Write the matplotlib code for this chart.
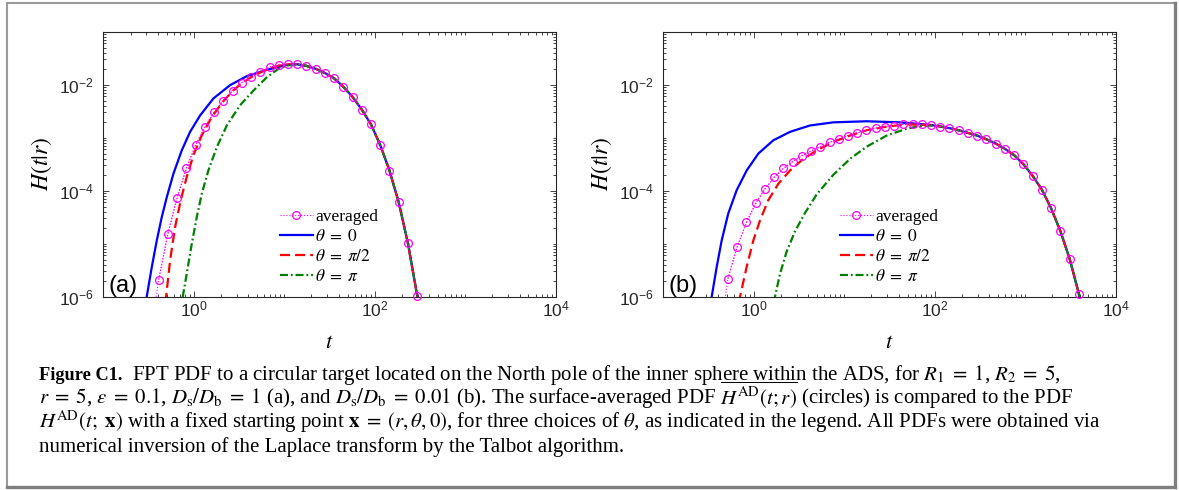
import numpy as np
import matplotlib
matplotlib.use("Agg")
import matplotlib.pyplot as plt
from matplotlib.ticker import FixedLocator, LogLocator, NullFormatter
from matplotlib.lines import Line2D

plt.rcParams["font.family"] = ["Liberation Sans", "DejaVu Sans"]
plt.rcParams["mathtext.fontset"] = "stix"

# ---- data (log10 t, log10 H) ----
# sampling grid of the averaged curve (circles)
logt_avg_a = [-0.388, -0.286, -0.184, -0.082, 0.020, 0.122, 0.224, 0.327, 0.429, 0.531,
              0.633, 0.735, 0.837, 0.939, 1.041, 1.143, 1.245, 1.347, 1.449, 1.551,
              1.653, 1.755, 1.857, 1.959, 2.061, 2.163, 2.265, 2.367, 2.469]
logH_avg_a = [-5.68, -4.81, -4.13, -3.58, -3.14, -2.80, -2.52, -2.30, -2.11, -1.96,
              -1.85, -1.76, -1.67, -1.63, -1.61, -1.61, -1.64, -1.70, -1.78, -1.88,
              -2.04, -2.23, -2.47, -2.75, -3.14, -3.62, -4.22, -4.99, -5.98]

# common tail of the three fixed-start curves, panel (a)
logt_tail_a = [1.347, 1.449, 1.551, 1.653, 1.755, 1.857, 1.959, 2.061, 2.163, 2.265, 2.367, 2.469, 2.52]
logH_tail_a = [-1.70, -1.78, -1.88, -2.04, -2.23, -2.47, -2.75, -3.14, -3.62, -4.22, -4.99, -5.98, -6.6]

logt_th0_a = [-0.55, -0.52, -0.464, -0.409, -0.354, -0.298, -0.225, -0.133, -0.041, 0.07,
              0.217, 0.40, 0.585, 0.77, 0.917, 1.041, 1.143, 1.245]
logH_th0_a = [-6.4, -6.0, -5.44, -4.94, -4.50, -4.12, -3.68, -3.24, -2.89, -2.58,
              -2.26, -2.01, -1.84, -1.74, -1.67, -1.625, -1.615, -1.645]

logt_th2_a = [-0.33, -0.306, -0.262, -0.207, -0.144, -0.078, -0.004, 0.088, 0.199, 0.327,
              0.429, 0.531, 0.633, 0.735, 0.837, 0.939, 1.041, 1.143, 1.245]
logH_th2_a = [-6.4, -6.0, -5.32, -4.69, -4.18, -3.74, -3.33, -2.96, -2.61, -2.31,
              -2.12, -1.97, -1.86, -1.77, -1.69, -1.64, -1.615, -1.615, -1.645]

logt_thp_a = [-0.14, -0.122, -0.078, -0.022, 0.033, 0.088, 0.161, 0.254, 0.365, 0.51,
              0.66, 0.807, 0.935, 1.041, 1.143, 1.245]
logH_thp_a = [-6.3, -6.0, -5.57, -5.0, -4.50, -4.06, -3.62, -3.18, -2.77, -2.39,
              -2.11, -1.86, -1.70, -1.635, -1.615, -1.645]

logt_avg_b = [-0.286, -0.184, -0.082, 0.020, 0.122, 0.224, 0.327, 0.429, 0.531, 0.633,
              0.735, 0.837, 0.939, 1.041, 1.143, 1.245, 1.347, 1.449, 1.551, 1.653,
              1.755, 1.857, 1.959, 2.061, 2.163, 2.265, 2.367, 2.469, 2.571, 2.673,
              2.776, 2.878, 2.980, 3.082, 3.184, 3.286, 3.388, 3.490, 3.592]
logH_avg_b = [-5.66, -5.06, -4.60, -4.24, -3.97, -3.75, -3.58, -3.45, -3.34, -3.25,
              -3.17, -3.09, -3.02, -2.96, -2.91, -2.86, -2.82, -2.79, -2.77, -2.75,
              -2.74, -2.75, -2.76, -2.79, -2.82, -2.86, -2.91, -2.96, -3.03, -3.11,
              -3.21, -3.33, -3.50, -3.72, -3.98, -4.33, -4.76, -5.28, -5.94]

logt_tail_b = [2.061, 2.163, 2.265, 2.367, 2.469, 2.571, 2.673, 2.776, 2.878, 2.980,
               3.082, 3.184, 3.286, 3.388, 3.490, 3.592, 3.65]
logH_tail_b = [-2.79, -2.82, -2.86, -2.91, -2.96, -3.03, -3.11, -3.21, -3.33, -3.50,
               -3.72, -3.98, -4.33, -4.76, -5.28, -5.94, -6.5]

logt_th0_b = [-0.49, -0.465, -0.41, -0.355, -0.282, -0.189, -0.079, 0.05, 0.215, 0.40,
              0.62, 0.879, 1.247, 1.615, 1.857, 1.959]
logH_th0_b = [-6.4, -6.0, -5.44, -4.94, -4.43, -3.99, -3.62, -3.30, -3.05, -2.89,
              -2.77, -2.71, -2.69, -2.71, -2.745, -2.76]

logt_th2_b = [-0.18, -0.152, -0.079, -0.005, 0.069, 0.16, 0.271, 0.40, 0.547, 0.695,
              0.879, 1.063, 1.247, 1.468, 1.69, 1.959]
logH_th2_b = [-6.4, -6.0, -5.44, -4.94, -4.56, -4.18, -3.87, -3.62, -3.40, -3.24,
              -3.08, -2.96, -2.86, -2.79, -2.75, -2.76]

logt_thp_b = [0.21, 0.234, 0.29, 0.363, 0.455, 0.566, 0.695, 0.879, 1.063, 1.247,
              1.468, 1.69, 1.836, 1.959]
logH_thp_b = [-6.4, -6.0, -5.57, -5.15, -4.77, -4.42, -4.07, -3.70, -3.40, -3.17,
              -2.96, -2.83, -2.78, -2.77]

labels = ["averaged", r"$\theta\;=\;0$", r"$\theta\;=\;\pi/2$", r"$\theta\;=\;\pi$"]
panel_tags = ["(a)", "(b)"]

caption_head = "Figure C1."
caption = [
    r"FPT PDF to a circular target located on the North pole of the inner sphere within the ADS, for $R_1\;=\;1$, $R_2\;=\;5$,",
    r"$r\;=\;5$, $\varepsilon\;=\;0.1$, $D_\mathrm{s}/D_\mathrm{b}\;=\;1$ (a), and $D_\mathrm{s}/D_\mathrm{b}\;=\;0.01$ (b). The surface-averaged PDF $\overline{H^\mathrm{AD}(t;r)}$ (circles) is compared to the PDF",
    r"$H^\mathrm{AD}(t;\ \mathbf{x})$ with a fixed starting point $\mathbf{x}\;=\;(r, \theta, 0)$, for three choices of $\theta$, as indicated in the legend. All PDFs were obtained via",
    r"numerical inversion of the Laplace transform by the Talbot algorithm.",
]


def lg(a):
    return 10.0 ** np.asarray(a)


fig = plt.figure(figsize=(11.79, 4.90), dpi=100)
W, H = 1179.0, 490.0

panels = [
    (103.3, logt_avg_a, logH_avg_a, logt_th0_a, logH_th0_a, logt_th2_a, logH_th2_a,
     logt_thp_a, logH_thp_a, logt_tail_a, logH_tail_a),
    (663.3, logt_avg_b, logH_avg_b, logt_th0_b, logH_th0_b, logt_th2_b, logH_th2_b,
     logt_thp_b, logH_thp_b, logt_tail_b, logH_tail_b),
]

for i, p in enumerate(panels):
    left, ta, ha, t0, h0, t2, h2, tp, hp, tt, ht = p
    ax = fig.add_axes([left / W, 1 - 296.7 / H, 452.4 / W, 265.0 / H])

    # dotted extension of the averaged curve down to the axis
    ta_ext = [ta[0] - 0.102] + ta + [ta[-1] + 0.102]
    ha_ext = [ha[0] - 1.2] + ha + [ha[-1] - 1.2]
    ax.plot(lg(ta_ext), lg(ha_ext), ":", color="#FF00FF", lw=0.8)
    ax.plot(lg(ta), lg(ha), ":", color="#FF00FF", lw=0.8, marker="o", ms=5.6,
            mfc="none", mec="#FF00FF", mew=0.9, clip_on=False, label=labels[0], zorder=4)

    ax.plot(lg(t0 + tt), lg(h0 + ht), "-", color="#0000FF", lw=1.6, label=labels[1])
    ax.plot(lg(t2 + tt), lg(h2 + ht), "--", color="#FF0000", lw=1.6, dashes=(4.5, 2.3),
            label=labels[2])
    ax.plot(lg(tp + tt), lg(hp + ht), "-.", color="#008000", lw=1.6,
            dashes=(3.6, 1.3, 0.8, 1.3), label=labels[3])

    ax.set_xscale("log")
    ax.set_yscale("log")
    ax.set_xlim(1e-1, 1e4)
    ax.set_ylim(1e-6, 1e-1)
    ax.xaxis.set_major_locator(FixedLocator([1e0, 1e2, 1e4]))
    ax.yaxis.set_major_locator(FixedLocator([1e-6, 1e-4, 1e-2]))
    ax.xaxis.set_minor_locator(LogLocator(base=10, subs=np.arange(1, 10), numticks=50))
    ax.yaxis.set_minor_locator(LogLocator(base=10, subs=np.arange(1, 10), numticks=50))
    ax.xaxis.set_minor_formatter(NullFormatter())
    ax.yaxis.set_minor_formatter(NullFormatter())
    ax.tick_params(which="both", direction="in", top=True, right=True, colors="#262626",
                   labelsize=12.5, width=0.6)
    ax.tick_params(which="major", length=4)
    ax.tick_params(which="minor", length=2.2)
    ax.tick_params(axis="x", pad=2)
    ax.tick_params(axis="y", pad=7)
    for s in ax.spines.values():
        s.set_color("#262626")
        s.set_linewidth(0.8)

    ax.set_xlabel(r"$t$", fontsize=16)
    ax.set_ylabel(r"$H(t|r)$", fontsize=17)
    ax.xaxis.set_label_coords(0.5, -0.135)
    ax.yaxis.set_label_coords(-0.11, 0.5)

    ax.text(0.012, 0.0, panel_tags[i], transform=ax.transAxes, fontsize=17,
            ha="left", va="bottom")

    leg = ax.legend(loc="lower left", bbox_to_anchor=(0.39, 0.045), frameon=False,
                    prop={"family": ["Liberation Serif"], "size": 12.5},
                    handlelength=1.9, handletextpad=0.15, labelspacing=0.22,
                    borderpad=0, borderaxespad=0)

# caption
fig.text(39.3 / W, 1 - 380 / H, caption_head, fontsize=13.2, fontweight="bold",
         family=["Liberation Serif"], ha="left", va="baseline")
for j, line in enumerate(caption):
    x0 = 132.0 if j == 0 else 39.3
    fig.text(x0 / W, 1 - (380 + 24.1 * j) / H, line, fontsize=15,
             family=["Liberation Serif"], ha="left", va="baseline")

# outer frame
fig.add_artist(Line2D([6.5 / W, 6.5 / W], [1 - 3 / H, 1 - 487 / H], color="#9a9a9a", lw=1.5))
fig.add_artist(Line2D([6.5 / W, 1174.5 / W], [1 - 3 / H, 1 - 3 / H], color="#9a9a9a", lw=1.5))
fig.add_artist(Line2D([1174.5 / W, 1174.5 / W], [1 - 3 / H, 1 - 487 / H], color="#7f7f7f", lw=2.4))
fig.add_artist(Line2D([6.5 / W, 1174.5 / W], [1 - 487 / H, 1 - 487 / H], color="#7f7f7f", lw=2.4))

fig.savefig("out.png", dpi=100)
